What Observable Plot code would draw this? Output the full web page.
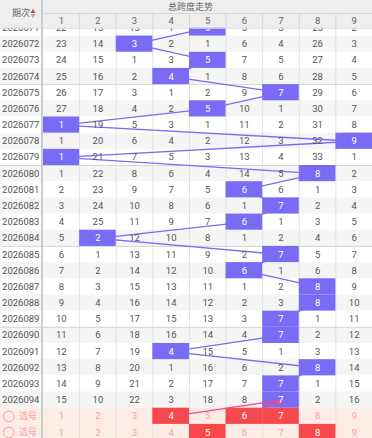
<!DOCTYPE html>
<html>
<head>
<meta charset="utf-8">
<script src="https://cdn.jsdelivr.net/npm/d3@7"></script>
<script src="https://cdn.jsdelivr.net/npm/@observablehq/plot@0.6"></script>
<style>
  html, body { margin: 0; padding: 0; background: #fff; }
  #chart svg { display: block; }
</style>
</head>
<body>
<div id="chart"></div>
<script>
// ---------- data ----------
const title = "总跨度走势";
const issueHeader = "期次";
const pickLabel = "选号";
const columns = ["1", "2", "3", "4", "5", "6", "7", "8", "9"];
const issues = [
  "2026071", "2026072", "2026073", "2026074", "2026075", "2026076",
  "2026077", "2026078", "2026079", "2026080", "2026081", "2026082",
  "2026083", "2026084", "2026085", "2026086", "2026087", "2026088",
  "2026089", "2026090", "2026091", "2026092", "2026093", "2026094"
];
const cellValues = [
  [22, 13, 13, 1, 5, 5, 3, 25, 2],
  [23, 14, 3, 2, 1, 6, 4, 26, 3],
  [24, 15, 1, 3, 5, 7, 5, 27, 4],
  [25, 16, 2, 4, 1, 8, 6, 28, 5],
  [26, 17, 3, 1, 2, 9, 7, 29, 6],
  [27, 18, 4, 2, 5, 10, 1, 30, 7],
  [1, 19, 5, 3, 1, 11, 2, 31, 8],
  [1, 20, 6, 4, 2, 12, 3, 32, 9],
  [1, 21, 7, 5, 3, 13, 4, 33, 1],
  [1, 22, 8, 6, 4, 14, 5, 8, 2],
  [2, 23, 9, 7, 5, 6, 6, 1, 3],
  [3, 24, 10, 8, 6, 1, 7, 2, 4],
  [4, 25, 11, 9, 7, 6, 1, 3, 5],
  [5, 2, 12, 10, 8, 1, 2, 4, 6],
  [6, 1, 13, 11, 9, 2, 7, 5, 7],
  [7, 2, 14, 12, 10, 6, 1, 6, 8],
  [8, 3, 15, 13, 11, 1, 2, 8, 9],
  [9, 4, 16, 14, 12, 2, 3, 8, 10],
  [10, 5, 17, 15, 13, 3, 7, 1, 11],
  [11, 6, 18, 16, 14, 4, 7, 2, 12],
  [12, 7, 19, 4, 15, 5, 1, 3, 13],
  [13, 8, 20, 1, 16, 6, 2, 8, 14],
  [14, 9, 21, 2, 17, 7, 7, 1, 15],
  [15, 10, 22, 3, 18, 8, 7, 2, 16]
];
const hitColumns = [5, 3, 5, 4, 7, 5, 1, 9, 1, 8, 6, 7, 6, 2, 7, 6, 8, 8, 7, 7, 4, 8, 7, 7];
const pickRow1 = [4, 6, 7];
const pickRow2 = [5, 8];
const pickRows = [pickRow1, pickRow2];

// ---------- layout / style ----------
const W = 372, H = 438;
const leftW = 42.5;
const rowH = 16.18;
const firstRowTop = 19.4;   // table scrolled: first row partly under header
const headerMid = 13, headerBottom = 27.7;
const colW = (W - leftW) / columns.length;
const xLeft = -leftW / colW;
const pxX = p => (p - leftW) / colW;
const pxY = p => (p - firstRowTop) / rowH;
const nRows = issues.length + pickRows.length;

const PURPLE = "#7a6bf5", RED = "#f5494b", PINK_BG = "#fdebe5", PINK_TXT = "#f7a19c",
      PINK_LINE = "#ee4a86", TXT = "#555555", GRID = "#e2e2e2", ALT = "#f5f5f5",
      HEAD_BG = "#eeeeee", HEAD_TXT = "#666666";
const FONT = 9.5;

// ---------- derived tables ----------
const rowBands = d3.range(nRows).map(i => ({
  i,
  fill: i >= issues.length ? PINK_BG : (i % 2 === 1 ? ALT : "#ffffff")
}));
const cells = [];
issues.forEach((iss, i) => cellValues[i].forEach((v, j) => cells.push({
  row: i, col: j + 1, text: String(v), hit: hitColumns[i] === j + 1
})));
const hits = hitColumns.map((c, i) => ({row: i, col: c}));
const pickCells = [];
pickRows.forEach((picks, k) => columns.forEach((c, j) => pickCells.push({
  row: issues.length + k, col: j + 1, text: c, hit: picks.includes(j + 1)
})));
const lastHit = hits[hits.length - 1];
const pinkLinks = pickRow1.map(c => ({from: lastHit, col: c, row: issues.length}));
const fiveSeps = d3.range(4, issues.length, 5);
const issueLabels = issues.map((s, i) => ({row: i, text: s}));
const pickLabels = pickRows.map((p, k) => ({row: issues.length + k, text: pickLabel}));

const chart = Plot.plot({
  width: W, height: H, margin: 0,
  x: {domain: [0, columns.length], range: [leftW, W], axis: null},
  y: {domain: [0, nRows], range: [firstRowTop, firstRowTop + nRows * rowH], axis: null},
  color: {type: "identity"},
  style: {fontFamily: "Roboto, 'Noto Sans CJK SC', sans-serif", background: "#fff"},
  marks: [
    // row backgrounds
    Plot.rect(rowBands, {x1: xLeft, x2: columns.length, y1: d => d.i, y2: d => d.i + 1, fill: d => d.fill}),
    // vertical grid
    Plot.ruleX(d3.range(1, columns.length), {y1: 0, y2: nRows, stroke: GRID, strokeWidth: 1}),
    // 5-row separators
    Plot.ruleY(fiveSeps, {x1: xLeft, x2: columns.length, stroke: "#d6d6d6", strokeWidth: 1}),
    // trend line
    Plot.line(hits, {x: d => d.col - 0.5, y: d => d.row + 0.5, stroke: PURPLE, strokeWidth: 1.3}),
    // hit cells
    Plot.rect(hits, {x1: d => d.col - 1, x2: d => d.col, y1: d => d.row, y2: d => d.row + 1, fill: PURPLE}),
    Plot.rect(pickCells.filter(d => d.hit), {x1: d => d.col - 1, x2: d => d.col, y1: d => d.row, y2: d => d.row + 1, fill: RED}),
    // pick links
    Plot.link(pinkLinks, {x1: d => d.from.col - 0.5, y1: d => d.from.row + 0.5, x2: d => d.col - 0.5, y2: d => d.row + 0.5, stroke: PINK_LINE, strokeWidth: 1.3}),
    // cell texts
    Plot.text(cells, {x: d => d.col - 0.5, y: d => d.row + 0.5, text: "text", fill: d => d.hit ? "#ffffff" : TXT, fontSize: FONT}),
    Plot.text(pickCells, {x: d => d.col - 0.5, y: d => d.row + 0.5, text: "text", fill: d => d.hit ? "#ffffff" : PINK_TXT, fontSize: FONT}),
    // left column labels
    Plot.text(issueLabels, {x: xLeft / 2, dx: -1, y: d => d.row + 0.5, text: "text", fill: TXT, fontSize: FONT}),
    Plot.dot(pickLabels, {x: pxX(8.3), y: d => d.row + 0.5, r: 5.3, stroke: PINK_TXT, fill: "none", strokeWidth: 1}),
    Plot.text(pickLabels, {x: pxX(18.5), y: d => d.row + 0.5, text: "text", textAnchor: "start", fill: PINK_TXT, fontSize: 9}),
    // header
    Plot.rect([0], {x1: xLeft, x2: columns.length, y1: pxY(0), y2: pxY(headerBottom), fill: HEAD_BG}),
    Plot.ruleY([pxY(headerMid)], {x1: 0, x2: columns.length, stroke: "#d8d8d8"}),
    Plot.ruleY([pxY(headerBottom)], {x1: xLeft, x2: columns.length, stroke: "#dadada"}),
    Plot.ruleX(d3.range(1, columns.length), {y1: pxY(headerMid), y2: pxY(headerBottom), stroke: "#d8d8d8"}),
    Plot.text([title], {x: pxX(190), y: pxY(6.5), text: d => d, fill: HEAD_TXT, fontSize: 9}),
    Plot.text(columns, {x: (d, i) => i + 0.5, y: pxY(20.5), text: d => d, fill: HEAD_TXT, fontSize: FONT}),
    Plot.text([issueHeader], {x: pxX(20.5), y: pxY(13), text: d => d, fill: HEAD_TXT, fontSize: 9}),
    Plot.dot(["up"], {x: pxX(32.5), y: pxY(11), symbol: "triangle", r: 1.8, fill: "#e8413a"}),
    Plot.dot(["down"], {x: pxX(32.5), y: pxY(15), symbol: "triangle", rotate: 180, r: 1.8, fill: "#b0b0b0"}),
    // left separator
    Plot.ruleX([0], {y1: pxY(0), y2: nRows, dx: -1, stroke: "#cccccc", strokeWidth: 2})
  ]
});
document.getElementById("chart").appendChild(chart);
</script>
</body>
</html>
